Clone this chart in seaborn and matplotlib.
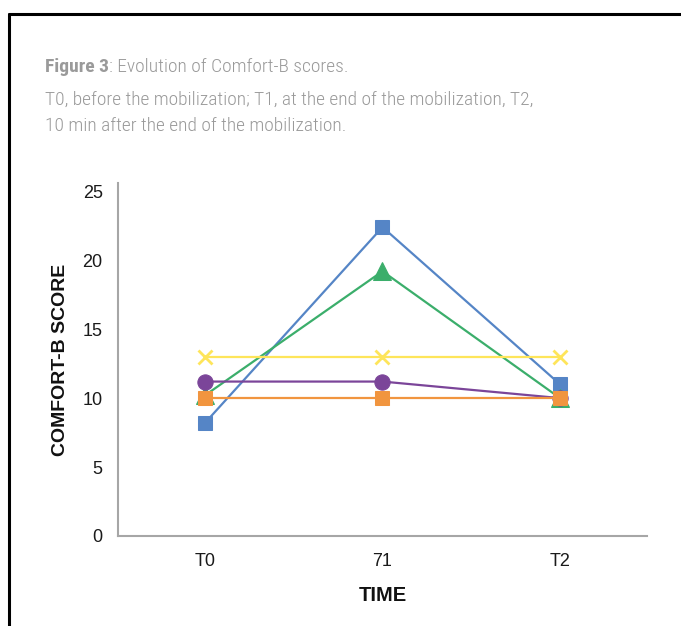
import numpy as np
import pandas as pd
import matplotlib
matplotlib.use('Agg')
import matplotlib.pyplot as plt
import seaborn as sns
from matplotlib.lines import Line2D

# Data
times = ['T0', '71', 'T2']
patient_1 = [8.2, 22.4, 11.0]    # blue squares
patient_2 = [10.2, 19.2, 10.0]   # green triangles
patient_3 = [11.2, 11.2, 10.0]   # purple circles
patient_4 = [10.0, 10.0, 10.0]   # orange squares
patient_5 = [13.0, 13.0, 13.0]   # yellow crosses

series = {
    'Patient 1': patient_1,
    'Patient 2': patient_2,
    'Patient 3': patient_3,
    'Patient 4': patient_4,
    'Patient 5': patient_5,
}
df = pd.DataFrame([
    {'time': t, 'score': v, 'patient': name}
    for name, vals in series.items()
    for t, v in zip(times, vals)
])

styles = {
    'Patient 1': dict(color='#5585C6', marker='s', markersize=10.5, zorder=3),
    'Patient 2': dict(color='#3BAE6B', marker='^', markersize=13, zorder=3),
    'Patient 3': dict(color='#7B4599', marker='o', markersize=11, zorder=3),
    'Patient 4': dict(color='#F1953F', marker='s', markersize=10.5, zorder=4),
    'Patient 5': dict(color='#FEE55A', marker='x', markersize=10.5, zorder=5,
                      markeredgewidth=2),
}

sns.set_style('white')
plt.rcParams['font.family'] = ['Liberation Sans', 'DejaVu Sans']

fig = plt.figure(figsize=(6.81, 6.26), dpi=100)
ax = fig.add_axes([118 / 681, 1 - 536 / 626, (647 - 118) / 681, (536 - 183) / 626])

for name in series:
    sub = df[df['patient'] == name]
    st = styles[name]
    sns.lineplot(data=sub, x='time', y='score', ax=ax, linewidth=1.6,
                 markeredgecolor=st['color'], sort=False, legend=False, **st)

ax.set_xlim(-0.49, 2.49)
ax.set_ylim(0, 25.6)
ax.set_yticks([0, 5, 10, 15, 20, 25])
ax.tick_params(axis='both', length=0, labelsize=13, colors='#1a1a1a')
ax.tick_params(axis='y', pad=11)
ax.tick_params(axis='x', pad=12)
for s in ['top', 'right']:
    ax.spines[s].set_visible(False)
for s in ['left', 'bottom']:
    ax.spines[s].set_color('#a6a6a6')
    ax.spines[s].set_linewidth(1.5)
ax.grid(False)

ax.set_xlabel('TIME', fontsize=14.5, fontweight='bold', color='#111111', labelpad=12)
ax.set_ylabel('COMFORT-B SCORE', fontsize=14, fontweight='bold', color='#111111', labelpad=10)

# Caption text
narrow = ['Roboto Condensed', 'Liberation Sans', 'DejaVu Sans']
gray = '#9a9a9a'
t = fig.text(45 / 681, 1 - 67 / 626, 'Figure 3', family=narrow, fontsize=14,
             fontweight='bold', color=gray, va='center')
fig.canvas.draw()
bb = t.get_window_extent()
fig.text(bb.x1 / 681, 1 - 67 / 626, ': Evolution of Comfort-B scores.', family=narrow,
         fontsize=14, fontweight='light', color=gray, va='center')
fig.text(45 / 681, 1 - 100 / 626,
         'T0, before the mobilization; T1, at the end of the mobilization, T2,',
         family=narrow, fontsize=14, fontweight='light', color=gray, va='center')
fig.text(45 / 681, 1 - 126 / 626, '10 min after the end of the mobilization.',
         family=narrow, fontsize=14, fontweight='light', color=gray, va='center')

# Black frame (top and left edges)
fig.add_artist(Line2D([9 / 681, 1], [1 - 14 / 626, 1 - 14 / 626],
                      transform=fig.transFigure, color='black', linewidth=2.2))
fig.add_artist(Line2D([9 / 681, 9 / 681], [0, 1 - 14 / 626],
                      transform=fig.transFigure, color='black', linewidth=2.2))

fig.savefig('out.png', dpi=100)
